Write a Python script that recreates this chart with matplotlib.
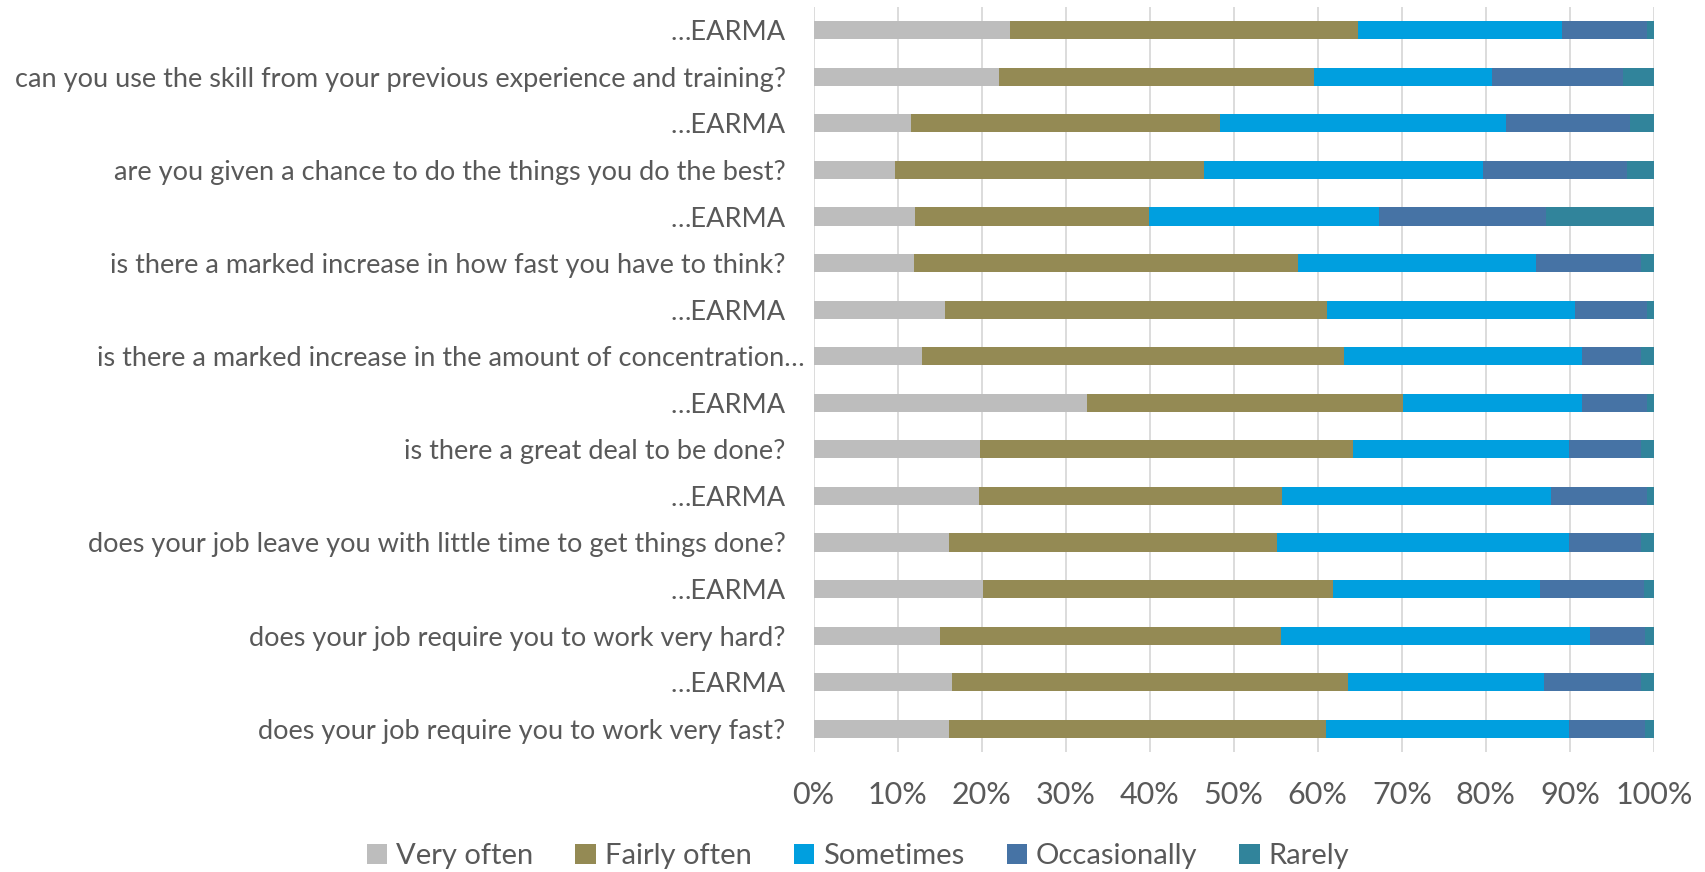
#!/usr/bin/env python3
"""
Stacked 100% bar chart of job demand survey answers vs EARMA benchmark
"""
import matplotlib.pyplot as plt
from matplotlib.transforms import ScaledTranslation

questions = [
    "…EARMA",
    "can you use the skill from your previous experience and training?",
    "…EARMA",
    "are you given a chance to do the things you do the best?",
    "…EARMA",
    "is there a marked increase in how fast you have to think?",
    "…EARMA",
    "is there a marked increase in the amount of concentration…",
    "…EARMA",
    "is there a great deal to be done?",
    "…EARMA",
    "does your job leave you with little time to get things done?",
    "…EARMA",
    "does your job require you to work very hard?",
    "…EARMA",
    "does your job require you to work very fast?",
]

answers = ["Very often", "Fairly often", "Sometimes", "Occasionally", "Rarely"]

# shares in percent, one list per answer, rows in the order of `questions`
very_often = [23.4, 22.1, 11.6, 9.7, 12.1, 12.0, 15.6, 12.9,
              32.5, 19.8, 19.7, 16.1, 20.2, 15.0, 16.5, 16.1]
fairly_often = [41.4, 37.5, 36.8, 36.8, 27.8, 45.7, 45.5, 50.2,
                37.6, 44.4, 36.0, 39.1, 41.6, 40.6, 47.1, 44.9]
sometimes = [24.2, 21.1, 34.0, 33.2, 27.4, 28.3, 29.5, 28.3,
             21.3, 25.7, 32.0, 34.7, 24.6, 36.8, 23.3, 28.9]
occasionally = [10.2, 15.6, 14.7, 17.1, 19.9, 12.4, 8.6, 7.0,
                7.8, 8.5, 11.5, 8.5, 12.4, 6.5, 11.5, 9.0]
rarely = [0.8, 3.7, 2.9, 3.2, 12.8, 1.6, 0.8, 1.6,
          0.8, 1.6, 0.8, 1.6, 1.2, 1.1, 1.6, 1.1]

colors = ["#BDBDBD", "#948A54", "#009FDF", "#4673A5", "#31849B"]
text_color = "#595959"


def main():
    plt.rcParams['font.family'] = ['Lato', 'DejaVu Sans']
    plt.rcParams['font.size'] = 19.5

    fig = plt.figure(figsize=(17.05, 8.72), dpi=100)
    ax = fig.add_axes([813.5 / 1705, 1 - 752 / 872,
                       (1654 - 813.5) / 1705, (752 - 7) / 872])

    series = [very_often, fairly_often, sometimes, occasionally, rarely]
    rows = range(len(questions))
    left = [0.0] * len(questions)
    for name, vals, col in zip(answers, series, colors):
        ax.barh(rows, vals, left=left, height=0.39, color=col,
                label=name, zorder=3)
        left = [a + b for a, b in zip(left, vals)]

    ax.set_xlim(0, 100)
    ax.set_ylim(len(questions) - 0.5, -0.5)
    ax.set_xticks(range(0, 101, 10))
    ax.set_xticklabels(["{}%".format(v) for v in range(0, 101, 10)])
    ax.set_yticks(list(rows))
    ax.set_yticklabels(questions)
    ax.tick_params(axis='both', length=0, colors=text_color)
    ax.tick_params(axis='y', pad=20, labelsize=19.5)
    ax.tick_params(axis='x', pad=21, labelsize=22)
    # the long concentration label runs closer to the axis
    lbl = ax.get_yticklabels()[7]
    lbl.set_transform(lbl.get_transform() +
                      ScaledTranslation(19 / 100, 0, fig.dpi_scale_trans))

    ax.grid(axis='x', color="#D9D9D9", linewidth=1.3, zorder=0)
    for side in ax.spines.values():
        side.set_visible(False)

    leg = fig.legend(loc='center', bbox_to_anchor=(858 / 1705, 1 - 856 / 872),
                     ncol=5, frameon=False, fontsize=21, handlelength=0.7,
                     handleheight=0.7, handletextpad=0.3, columnspacing=1.45)
    for t in leg.get_texts():
        t.set_color(text_color)

    fig.savefig("out.png", dpi=100)


if __name__ == "__main__":
    main()
